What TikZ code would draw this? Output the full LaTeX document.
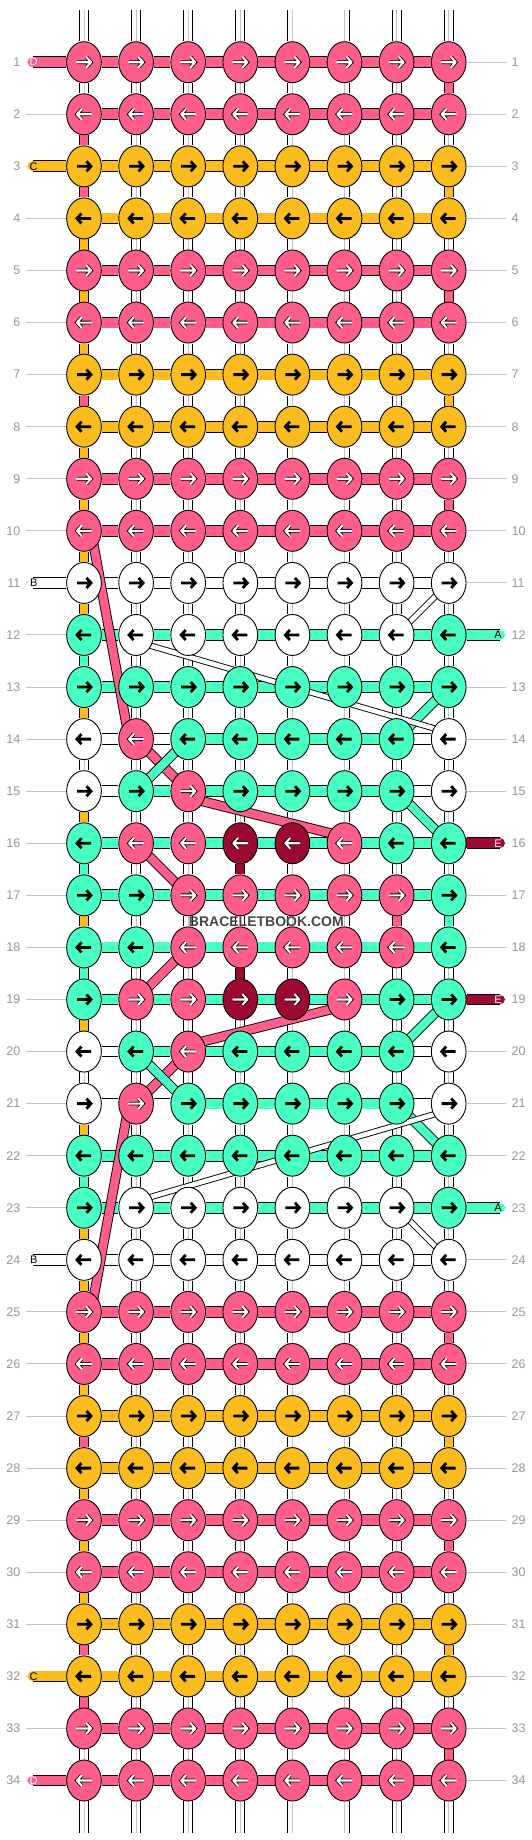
\documentclass[tikz,border=0pt]{standalone}
\usepackage{fontspec}
\setmainfont{Liberation Sans}
\usetikzlibrary{backgrounds,
                calc,
                shapes.geometric
            }

\definecolor{pk}{RGB}{255,94,138}
\definecolor{yl}{RGB}{251,188,32}
\definecolor{tl}{RGB}{72,255,196}
\definecolor{dr}{RGB}{156,10,50}
\definecolor{wt}{RGB}{255,255,255}
\definecolor{lblgray}{RGB}{150,150,150}
\definecolor{linegray}{RGB}{195,195,195}

\tikzset{
    knot/.style={draw, ellipse, line width=0.9, minimum width=34.7, minimum height=41, inner sep=0},
    hbar/.style={draw=#1, line width=9.9, preaction={draw=black, line width=11.7}},
    vbar/.style={draw=#1, line width=8.2, preaction={draw=black, line width=10}},
    wbar/.style={vbar=white, postaction={draw=linegray, line width=0.9}},
    diag/.style={draw=#1, line width=8.2, preaction={draw=black, line width=10}},
    wdiag/.style={draw=white, line width=4.6, preaction={draw=black, line width=6.4}},
    warrow/.style={draw=white, line width=2.1, line cap=round, line join=round,
                   preaction={draw=black, line width=3.7}},
    barrow/.style={draw=black, line width=2.8},
    arrow on pk/.style={warrow},
    arrow on dr/.style={warrow},
    arrow on yl/.style={barrow},
    arrow on tl/.style={barrow},
    arrow on wt/.style={barrow},
    rowlbl/.style={inner sep=0, text=lblgray, font=\fontsize{12.5}{14}\selectfont},
    tag/.style={inner sep=0, font=\fontsize{11}{13}\selectfont},
    lblline/.style={draw=linegray, line width=1}
}

\def\plainrows{1/pk, 2/pk, 3/yl, 4/yl, 5/pk, 6/pk, 7/yl, 8/yl, 9/pk, 10/pk,
    11/wt, 13/tl, 22/tl, 24/wt,
    25/pk, 26/pk, 27/yl, 28/yl, 29/pk, 30/pk, 31/yl, 32/yl, 33/pk, 34/pk}
\def\mixrows{12/{tl,wt,wt,wt,wt,wt,wt,tl}/{tl,tl,tl,tl,tl,tl,tl},
    14/{wt,pk,tl,tl,tl,tl,tl,wt}/{wt,wt,tl,tl,tl,tl,wt},
    15/{wt,tl,pk,tl,tl,tl,tl,wt}/{wt,tl,tl,tl,tl,tl,wt},
    16/{tl,pk,pk,dr,dr,pk,tl,tl}/{tl,tl,tl,tl,tl,tl,tl},
    17/{tl,tl,pk,pk,pk,pk,pk,tl}/{tl,tl,tl,tl,tl,tl,tl},
    18/{tl,tl,pk,pk,pk,pk,pk,tl}/{tl,tl,tl,tl,tl,tl,tl},
    19/{tl,pk,pk,dr,dr,pk,tl,tl}/{tl,tl,tl,tl,tl,tl,tl},
    20/{wt,tl,pk,tl,tl,tl,tl,wt}/{wt,tl,tl,tl,tl,tl,wt},
    21/{wt,pk,tl,tl,tl,tl,tl,wt}/{wt,wt,tl,tl,tl,tl,wt},
    23/{tl,wt,wt,wt,wt,wt,wt,tl}/{tl,tl,tl,tl,tl,tl,tl}}

\foreach \r/\c/\v in {1/8/pk, 2/1/pk, 3/1/pk, 3/8/yl, 4/1/yl, 5/1/yl, 5/8/pk, 6/1/yl,
    7/1/pk, 7/8/yl, 8/1/yl, 9/1/yl, 9/8/pk, 10/1/yl, 11/1/yl, 12/1/tl, 13/1/yl,
    15/1/yl, 16/1/tl, 16/4/dr, 17/1/yl, 17/7/pk, 17/8/tl, 18/1/tl, 18/4/dr, 19/1/yl,
    21/1/yl, 22/1/tl, 23/1/yl, 24/1/yl, 25/1/yl, 25/8/pk, 26/1/yl, 27/1/pk, 27/8/yl,
    28/1/yl, 29/1/yl, 29/8/pk, 30/1/yl, 31/1/pk, 31/8/yl, 32/1/pk, 33/8/pk}
    {\expandafter\xdef\csname vc@\r @\c\endcsname{\v}}

\begin{document}
\begin{tikzpicture}[x=1pt, y=-1pt]
    \useasboundingbox (0,0) rectangle (532,1840);

    \foreach \r/\k in \plainrows {
        \pgfmathsetmacro\dir{mod(\r,2)==1 ? 1 : -1}
        \foreach \c in {1,...,8} {
            \node[knot, fill=\k] (k-\r-\c) at ({84+52.1*(\c-1)}, {62.2+52.07*(\r-1)}) {};
            \draw[arrow on \k, shift={(k-\r-\c)}, xscale=\dir] (-7,0) -- (7,0) (2.5,-5) -- (7,0) -- (2.5,5);
        }
    }
    \foreach \r/\ks/\hs in \mixrows {
        \pgfmathsetmacro\dir{mod(\r,2)==1 ? 1 : -1}
        \foreach \k [count=\c] in \ks {
            \node[knot, fill=\k] (k-\r-\c) at ({84+52.1*(\c-1)}, {62.2+52.07*(\r-1)}) {};
            \draw[arrow on \k, shift={(k-\r-\c)}, xscale=\dir] (-7,0) -- (7,0) (2.5,-5) -- (7,0) -- (2.5,5);
        }
    }

    \foreach \r in {1,...,34} {
        \node[rowlbl, anchor=east] (lw-\r) at (20.5, {62.2+52.07*(\r-1)}) {\r};
        \node[rowlbl, anchor=west] (le-\r) at (511.5, {62.2+52.07*(\r-1)}) {\r};
    }

    \node[font=\bfseries\fontsize{14}{16}\selectfont, text=black!72, inner sep=0] (wm) at (266.35, 921.5) {BRACELETBOOK.COM};

    \begin{scope}[on background layer]
        \fill[white] (0,0) rectangle (532,1840);
        \foreach \r in {1,...,34} {
            \draw[lblline] ($(lw-\r.east)+(5.9,0)$) -- (k-\r-1);
            \draw[lblline] (k-\r-8) -- ($(le-\r.west)+(-5.2,0)$);
        }
        \foreach \c in {1,...,8} {
            \coordinate (st-\c) at ({84+52.1*(\c-1)}, 10.2);
            \coordinate (sb-\c) at ({84+52.1*(\c-1)}, 1832.5);
            \draw[wbar, line cap=round] (st-\c) -- (k-1-\c);
            \draw[wbar, line cap=round] (sb-\c) -- (k-34-\c);
        }
        \foreach \r/\s/\l/\tc in {1/pk/D/white, 3/yl/C/black, 11/wt/B/black, 24/wt/B/black, 32/yl/C/black, 34/pk/D/white} {
            \coordinate (sl-\r) at (32.5, {62.2+52.07*(\r-1)});
            \draw[hbar=\s, line cap=round] (sl-\r) -- (k-\r-1);
            \node[tag, text=\tc] (tagl-\r) at (33.7, {62.2+52.07*(\r-1)}) {\l};
        }
        \foreach \r/\s/\l/\tc in {12/tl/A/black, 16/dr/E/white, 19/dr/E/white, 23/tl/A/black} {
            \coordinate (sr-\r) at (500, {62.2+52.07*(\r-1)});
            \draw[hbar=\s, line cap=round] (k-\r-8) -- (sr-\r);
            \node[tag, text=\tc] (tagr-\r) at (498, {62.2+52.07*(\r-1)}) {\l};
        }
        \foreach \r in {1,...,33} {
            \pgfmathtruncatemacro\rr{\r+1}
            \foreach \c in {1,...,8} {
                \ifcsname vc@\r @\c\endcsname
                    \edef\vcol{\csname vc@\r @\c\endcsname}
                    \draw[vbar=\vcol] (k-\r-\c) -- (k-\rr-\c);
                \else
                    \draw[wbar] (k-\r-\c) -- (k-\rr-\c);
                \fi
            }
        }
        \foreach \r/\k in \plainrows {
            \foreach \c in {1,...,7} {
                \pgfmathtruncatemacro\cc{\c+1}
                \draw[hbar=\k] (k-\r-\c) -- (k-\r-\cc);
            }
        }
        \foreach \r/\ks/\hs in \mixrows {
            \foreach \h [count=\c] in \hs {
                \pgfmathtruncatemacro\cc{\c+1}
                \draw[hbar=\h] (k-\r-\c) -- (k-\r-\cc);
            }
        }
        \foreach \ra/\ca/\rb/\cb/\s/\dx/\dy in {10/1/14/2/pk/7/0, 14/2/15/3/pk/0/0, 15/3/16/6/pk/0/6.5,
            16/2/17/3/pk/0/0, 18/3/19/2/pk/0/0, 19/6/20/3/pk/0/6.5, 20/3/21/2/pk/0/0, 21/2/25/1/pk/-7/0,
            13/8/14/7/tl/0/0, 14/3/15/2/tl/0/0, 15/7/16/8/tl/0/0, 19/8/20/7/tl/0/0, 20/2/21/3/tl/0/0,
            21/7/22/8/tl/0/0} {
            \draw[diag=\s] ($(k-\ra-\ca)+(\dx,\dy)$) -- ($(k-\rb-\cb)-(\dx,\dy)$);
        }
        \foreach \ra/\ca/\rb/\cb/\dx/\dy in {11/8/12/7/0/0, 12/2/14/8/0/6.5, 21/8/23/2/0/6.5, 23/7/24/8/0/0} {
            \draw[wdiag] ($(k-\ra-\ca)+(\dx,\dy)$) -- ($(k-\rb-\cb)-(\dx,\dy)$);
        }
    \end{scope}
\end{tikzpicture}
\end{document}
